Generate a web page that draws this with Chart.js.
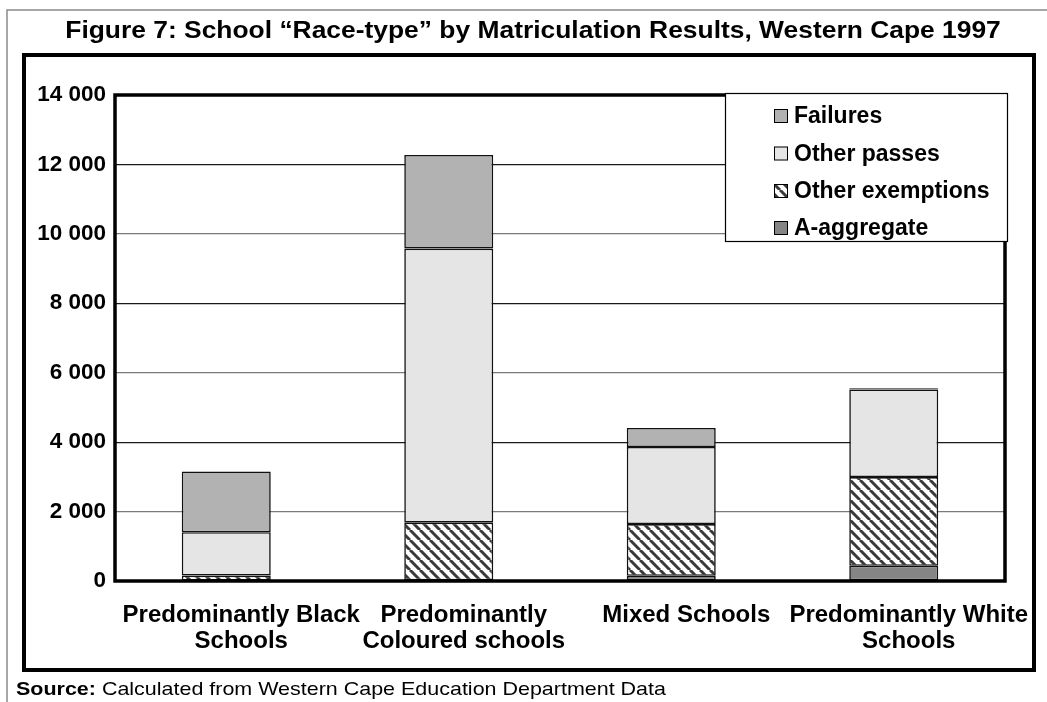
<!DOCTYPE html>
<html>
<head>
<meta charset="utf-8">
<script src="https://cdn.jsdelivr.net/npm/chart.js@4/dist/chart.umd.min.js"></script>
<style>
  html, body { margin: 0; padding: 0; background: #fff; }
  canvas { display: block; }
</style>
</head>
<body>
<canvas id="c" width="1047" height="702"></canvas>
<script>
// Matric results per school "race-type", Western Cape 1997
const categories = [
  ['Predominantly Black', 'Schools'],
  ['Predominantly', 'Coloured schools'],
  ['Mixed Schools'],
  ['Predominantly White', 'Schools']
];
const aAggregate      = [10, 20, 150, 440];
const otherExemptions = [145, 1660, 1490, 2555];
const otherPasses     = [1250, 7895, 2220, 2525];
const failures        = [1750, 2700, 550, 30];
const yTicks = [0, 2000, 4000, 6000, 8000, 10000, 12000, 14000];

const titleText = 'Figure 7: School \u201CRace-type\u201D by Matriculation Results, Western Cape 1997';
const sourceLabel = 'Source:';
const sourceText = ' Calculated from Western Cape Education Department Data';

const FONT = '"Liberation Sans", Arial, sans-serif';

// diagonal hatch used for "Other exemptions"
function makeHatch(ctx) {
  const s = 10;
  const p = document.createElement('canvas');
  p.width = s; p.height = s;
  const g = p.getContext('2d');
  g.fillStyle = '#ffffff';
  g.fillRect(0, 0, s, s);
  g.strokeStyle = '#3a3a3a';
  g.lineWidth = 3;
  g.beginPath();
  for (const o of [-s, 0, s]) { g.moveTo(o, 0); g.lineTo(o + s, s); }
  g.stroke();
  return ctx.createPattern(p, 'repeat');
}

function spaced(v) {
  return String(v).replace(/\B(?=(\d{3})+(?!\d))/g, ' ');
}

// text drawn with a slight horizontal stretch
function wideText(c, text, x, y, sx) {
  c.save();
  c.translate(x, y);
  c.scale(sx, 1);
  c.fillText(text, 0, 0);
  c.restore();
}

const canvas = document.getElementById('c');
const ctx = canvas.getContext('2d');
const hatch = makeHatch(ctx);

const barStyle = { borderColor: '#111', borderWidth: 1.6, borderSkipped: false,
                   categoryPercentage: 1.0, barPercentage: 0.4 };

// frame, title, source line, plot box and legend
const decorations = {
  id: 'decorations',
  beforeDraw(chart) {
    const c = chart.ctx;
    c.save();
    c.fillStyle = '#fff';
    c.fillRect(0, 0, chart.width, chart.height);
    // outer thin frame
    c.strokeStyle = '#8a8a8a';
    c.lineWidth = 1.5;
    c.beginPath();
    c.moveTo(7, 702); c.lineTo(7, 10); c.lineTo(1047, 10);
    c.stroke();
    // inner heavy frame
    c.strokeStyle = '#000';
    c.lineWidth = 4;
    c.strokeRect(24, 55, 1010, 615);
    // title
    c.fillStyle = '#000';
    c.font = 'bold 24px ' + FONT;
    c.textAlign = 'center';
    c.textBaseline = 'middle';
    wideText(c, titleText, 533, 31, 1.1);
    // source
    c.textAlign = 'left';
    const sx = 1.13;
    c.font = 'bold 19px ' + FONT;
    wideText(c, sourceLabel, 16, 690, sx);
    const w = c.measureText(sourceLabel).width * sx;
    c.font = '19px ' + FONT;
    wideText(c, sourceText, 16 + w, 690, sx);
    c.restore();
  },
  afterDatasetsDraw(chart) {
    const c = chart.ctx;
    const a = chart.chartArea;
    c.save();
    c.strokeStyle = '#000';
    c.lineWidth = 3.5;
    c.strokeRect(a.left, a.top, a.right - a.left, a.bottom - a.top);
    c.restore();
  },
  afterDraw(chart) {
    const c = chart.ctx;
    c.save();
    // legend box
    c.fillStyle = '#fff';
    c.fillRect(725, 93, 282, 148);
    c.strokeStyle = '#000';
    c.lineWidth = 1.2;
    c.strokeRect(725.5, 93.5, 282, 148);
    const ds = chart.data.datasets.slice().reverse();
    const rows = [116, 153.5, 191, 228];
    c.font = 'bold 23px ' + FONT;
    c.textAlign = 'left';
    c.textBaseline = 'middle';
    ds.forEach((d, i) => {
      const y = rows[i];
      c.fillStyle = d.backgroundColor;
      c.fillRect(774, y - 7, 14, 14);
      c.strokeStyle = '#000';
      c.lineWidth = 1;
      c.strokeRect(774.5, y - 6.5, 13, 13);
      c.fillStyle = '#000';
      c.fillText(d.label, 794, y + 1);
    });
    c.restore();
  }
};

new Chart(ctx, {
  type: 'bar',
  data: {
    labels: categories,
    datasets: [
      Object.assign({ label: 'A-aggregate', data: aAggregate, backgroundColor: '#858585' }, barStyle),
      Object.assign({ label: 'Other exemptions', data: otherExemptions, backgroundColor: hatch }, barStyle),
      Object.assign({ label: 'Other passes', data: otherPasses, backgroundColor: '#e5e5e5' }, barStyle),
      Object.assign({ label: 'Failures', data: failures, backgroundColor: '#b2b2b2' }, barStyle)
    ]
  },
  options: {
    responsive: false,
    devicePixelRatio: 1,
    animation: false,
    layout: { padding: { left: 0, top: 95, right: 42, bottom: 0 } },
    plugins: { legend: { display: false }, title: { display: false }, tooltip: { enabled: false } },
    scales: {
      x: {
        stacked: true,
        grid: { display: false, drawTicks: false },
        border: { display: false },
        ticks: {
          color: '#000',
          font: { family: FONT, size: 24, weight: 'bold', lineHeight: 1.06 },
          padding: 22,
          labelOffset: 15,
          maxRotation: 0,
          autoSkip: false
        },
        afterFit(s) { s.height = 121; }
      },
      y: {
        stacked: true,
        min: 0,
        max: 14000,
        afterBuildTicks(s) { s.ticks = yTicks.map(v => ({ value: v })); },
        grid: {
          drawTicks: false,
          lineWidth: 1.2,
          color: (c) => (c.tick && c.tick.value % 4000 === 0) ? '#1a1a1a' : '#7a7a7a'
        },
        border: { display: false },
        ticks: {
          color: '#000',
          font: { family: FONT, size: 22.5, weight: 'bold' },
          padding: 9,
          callback: (v) => spaced(v)
        },
        afterFit(s) { s.width = 115; }
      }
    }
  },
  plugins: [decorations]
});
</script>
</body>
</html>
